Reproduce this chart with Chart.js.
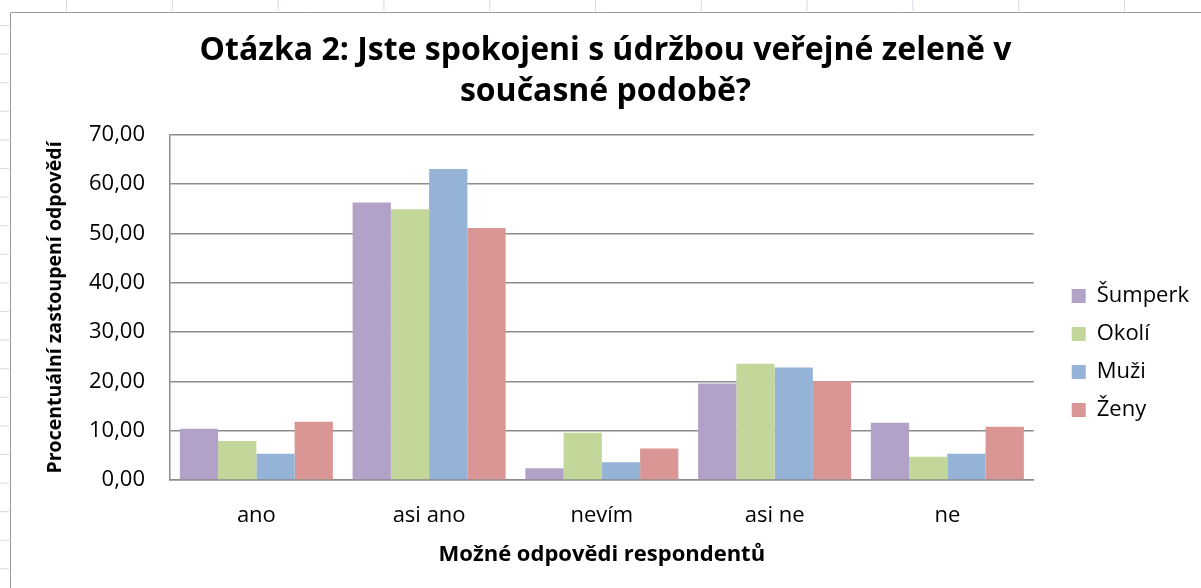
<!DOCTYPE html>
<html>
<head>
<meta charset="utf-8">
<script src="https://cdn.jsdelivr.net/npm/chart.js@4/dist/chart.umd.min.js"></script>
<style>
  html, body { margin: 0; padding: 0; background: #fff; }
  #wrap { position: relative; width: 1201px; height: 588px; }
</style>
</head>
<body>
<div id="wrap"><canvas id="chart"></canvas></div>
<script>
const categories = ['ano', 'asi ano', 'nevím', 'asi ne', 'ne']
const sumperk = [10.4, 56.3, 2.4, 19.6, 11.6]
const okoli = [7.9, 54.9, 9.6, 23.6, 4.7]
const muzi = [5.3, 63.1, 3.6, 22.8, 5.3]
const zeny = [11.8, 51.1, 6.4, 20.1, 10.8]
const seriesNames = ['Šumperk', 'Okolí', 'Muži', 'Ženy']
const seriesColors = ['#b3a2c7', '#c4d79b', '#95b3d7', '#d99694']
const yTicks = [0, 10, 20, 30, 40, 50, 60, 70]

const FONT = "'Open Sans', sans-serif"
const GRID = '#8c8c8c'

// spreadsheet cells peeking out around the chart + the chart's own frame
const sheetFrame = {
  id: 'sheetFrame',
  beforeDraw (chart) {
    const { ctx, width, height } = chart
    ctx.save()
    ctx.fillStyle = '#fff'
    ctx.fillRect(0, 0, width, height)
    ctx.strokeStyle = '#d4d9e3'
    ctx.lineWidth = 1
    for (let y = 25.5; y < height; y += 28.6) {
      ctx.beginPath(); ctx.moveTo(0, y); ctx.lineTo(9, y); ctx.stroke()
    }
    for (let x = 66.5; x < width; x += 105.8) {
      ctx.beginPath(); ctx.moveTo(x, 0); ctx.lineTo(x, 11); ctx.stroke()
    }
    ctx.strokeStyle = '#9a9a9a'
    ctx.beginPath()
    ctx.moveTo(10.5, height)
    ctx.lineTo(10.5, 12.5)
    ctx.lineTo(width, 12.5)
    ctx.stroke()
    ctx.restore()
  }
}

const datasets = [sumperk, okoli, muzi, zeny].map((values, i) => ({
  label: seriesNames[i],
  data: values,
  backgroundColor: seriesColors[i],
  borderWidth: 0,
  categoryPercentage: 0.886,
  barPercentage: 1
}))

new Chart(document.getElementById('chart').getContext('2d'), {
  type: 'bar',
  data: { labels: categories, datasets },
  plugins: [sheetFrame],
  options: {
    responsive: true,
    maintainAspectRatio: false,
    animation: false,
    layout: { padding: { left: 12, top: 12, right: 2, bottom: 20 } },
    plugins: {
      title: {
        display: true,
        text: ['Otázka 2: Jste spokojeni s údržbou veřejné zeleně v', 'současné podobě?'],
        color: '#000',
        font: { family: FONT, size: 32, weight: 'bold', lineHeight: 1.28 },
        padding: { top: 18, bottom: 23 }
      },
      legend: {
        position: 'right',
        align: 'center',
        // empty title only pushes the items down to where the reference has them
        title: { display: true, text: ' ', font: { size: 1, lineHeight: 1 }, padding: { top: 125, bottom: 0 } },
        labels: {
          color: '#000',
          font: { family: FONT, size: 22 },
          boxWidth: 14,
          boxHeight: 14,
          padding: 16
        }
      },
      tooltip: { enabled: false }
    },
    scales: {
      x: {
        grid: { display: false, drawTicks: false },
        border: { display: true, color: GRID, width: 1.5 },
        ticks: { color: '#000', font: { family: FONT, size: 22 }, padding: 23 },
        title: {
          display: true,
          text: 'Možné odpovědi respondentů',
          color: '#000',
          font: { family: FONT, size: 22, weight: 'bold' },
          padding: { top: 0, bottom: 0 }
        },
        afterFit: axis => { axis.height = 88 }
      },
      y: {
        min: 0,
        max: 70,
        afterBuildTicks: axis => { axis.ticks = yTicks.map(v => ({ value: v })) },
        grid: { color: GRID, lineWidth: 1.5, drawTicks: false },
        border: { display: true, color: GRID, width: 1.5 },
        ticks: {
          color: '#000',
          font: { family: FONT, size: 22 },
          padding: 25,
          callback: value => value.toFixed(2).replace('.', ',')
        },
        title: {
          display: true,
          text: 'Procentuální zastoupení odpovědí',
          color: '#000',
          font: { family: FONT, size: 19.5, weight: 'bold' },
          padding: { top: 32, bottom: 0 }
        },
        afterFit: axis => { axis.width = 158 }
      },
      gap: {
        position: 'right',
        display: true,
        grid: { display: false, drawTicks: false },
        border: { display: false },
        ticks: { display: false },
        afterFit: axis => { axis.width = 22 }
      }
    }
  }
})
</script>
</body>
</html>
